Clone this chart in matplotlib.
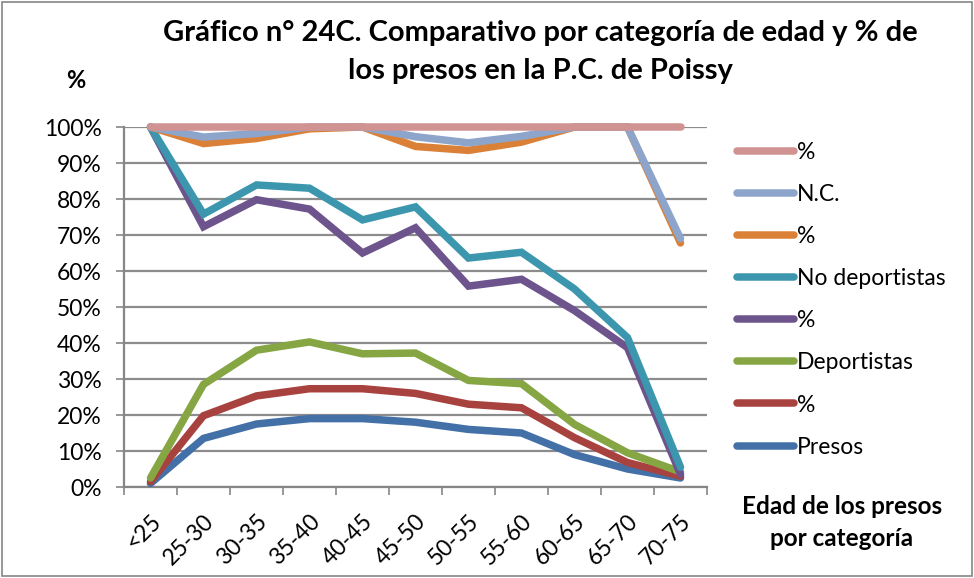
import matplotlib
matplotlib.use("Agg")
import matplotlib.pyplot as plt
from matplotlib.lines import Line2D
import numpy as np

categories = ["<25", "25-30", "30-35", "35-40", "40-45", "45-50", "50-55", "55-60", "60-65", "65-70", "70-75"]

presos = [1.0, 13.5, 17.5, 19.0, 19.0, 18.0, 16.0, 15.0, 9.0, 5.0, 2.5]
pct_presos = [1.5, 19.8, 25.3, 27.3, 27.3, 26.0, 23.0, 22.0, 13.7, 6.8, 3.0]
deportistas = [2.5, 28.5, 38.0, 40.3, 37.0, 37.2, 29.6, 28.7, 17.4, 9.5, 4.2]
pct_deport = [100.0, 72.3, 79.8, 77.2, 65.0, 72.0, 55.8, 57.7, 49.0, 38.7, 3.5]
no_deportistas = [100.0, 75.8, 83.9, 83.0, 74.2, 77.8, 63.6, 65.2, 55.0, 41.5, 5.5]
pct_nodep = [100.0, 95.4, 96.8, 99.5, 100.0, 94.6, 93.5, 95.8, 100.0, 100.0, 67.8]
nc = [100.0, 97.2, 98.2, 100.0, 100.0, 97.3, 95.6, 97.4, 100.0, 100.0, 69.0]
pct_nc = [100.0] * 11

series = [
    ("Presos", presos, "#4470A8"),
    ("%", pct_presos, "#A8423F"),
    ("Deportistas", deportistas, "#86A644"),
    ("%", pct_deport, "#6D548D"),
    ("No deportistas", no_deportistas, "#3C97AE"),
    ("%", pct_nodep, "#DA8137"),
    ("N.C.", nc, "#8EA5CB"),
    ("%", pct_nc, "#D19392"),
]

FONT = ["Lato", "DejaVu Sans"]
plt.rcParams["font.family"] = FONT
FS = 16.5

fig = plt.figure(figsize=(9.74, 5.78), dpi=100)
ax = fig.add_axes([124/974, 1-487/578, (707-124)/974, (487-127)/578])

x = np.arange(len(categories))
lw = 5.4
for name, vals, col in series:
    ax.plot(x, np.array(vals)/100.0, color=col, lw=lw, solid_capstyle="round",
            solid_joinstyle="miter", clip_on=False, zorder=3)

ax.set_xlim(-0.5, len(categories)-0.5)
ax.set_ylim(0, 1)
ax.set_yticks(np.arange(0, 1.01, 0.1))
ax.set_yticklabels([f"{int(round(v*100))}%" for v in np.arange(0, 1.01, 0.1)], fontsize=FS)
ax.set_xticks(x)
ax.set_xticklabels(categories, rotation=45, ha="right", rotation_mode="anchor", fontsize=FS)
ax.set_xticks(np.arange(-0.5, len(categories)), minor=True)
ax.tick_params(axis="x", which="major", length=0, pad=17)
ax.tick_params(axis="x", which="minor", length=6, color="#868686", width=1.2)
ax.tick_params(axis="y", length=6, color="#868686", width=1.2, pad=10)

ax.grid(axis="y", color="#8C8C8C", lw=1.6, zorder=0)
ax.set_axisbelow(True)
for s in ["top", "right"]:
    ax.spines[s].set_visible(False)
for s in ["left", "bottom"]:
    ax.spines[s].set_color("#868686")
    ax.spines[s].set_linewidth(1.6)

handles = [Line2D([0], [0], color=c, lw=lw, solid_capstyle="round") for _, _, c in series][::-1]
labels = [n for n, _, _ in series][::-1]
fig.legend(handles, labels, loc="upper left", bbox_to_anchor=(737/974, 1-142/578),
           frameon=False, fontsize=FS, handlelength=2.5, handletextpad=0.12,
           labelspacing=0.92, borderaxespad=0, borderpad=0)

fig.text(540/974, 1-33/578, "Gráfico n° 24C. Comparativo por categoría de edad y % de",
         ha="center", va="center", fontsize=21, fontweight="bold")
fig.text(540/974, 1-71/578, "los presos en la P.C. de Poissy",
         ha="center", va="center", fontsize=21, fontweight="bold")
fig.text(76/974, 1-80/578, "%", ha="center", va="center", fontsize=17, fontweight="bold")
fig.text(842/974, 1-506/578, "Edad de los presos", ha="center", va="center", fontsize=17.5, fontweight="bold")
fig.text(842/974, 1-538/578, "por categoría", ha="center", va="center", fontsize=17.5, fontweight="bold")

border = plt.Rectangle((0.002, 0.003), 0.996, 0.994, transform=fig.transFigure,
                       fill=False, edgecolor="#868686", lw=1.2)
fig.add_artist(border)

fig.savefig("out.png", dpi=100)
